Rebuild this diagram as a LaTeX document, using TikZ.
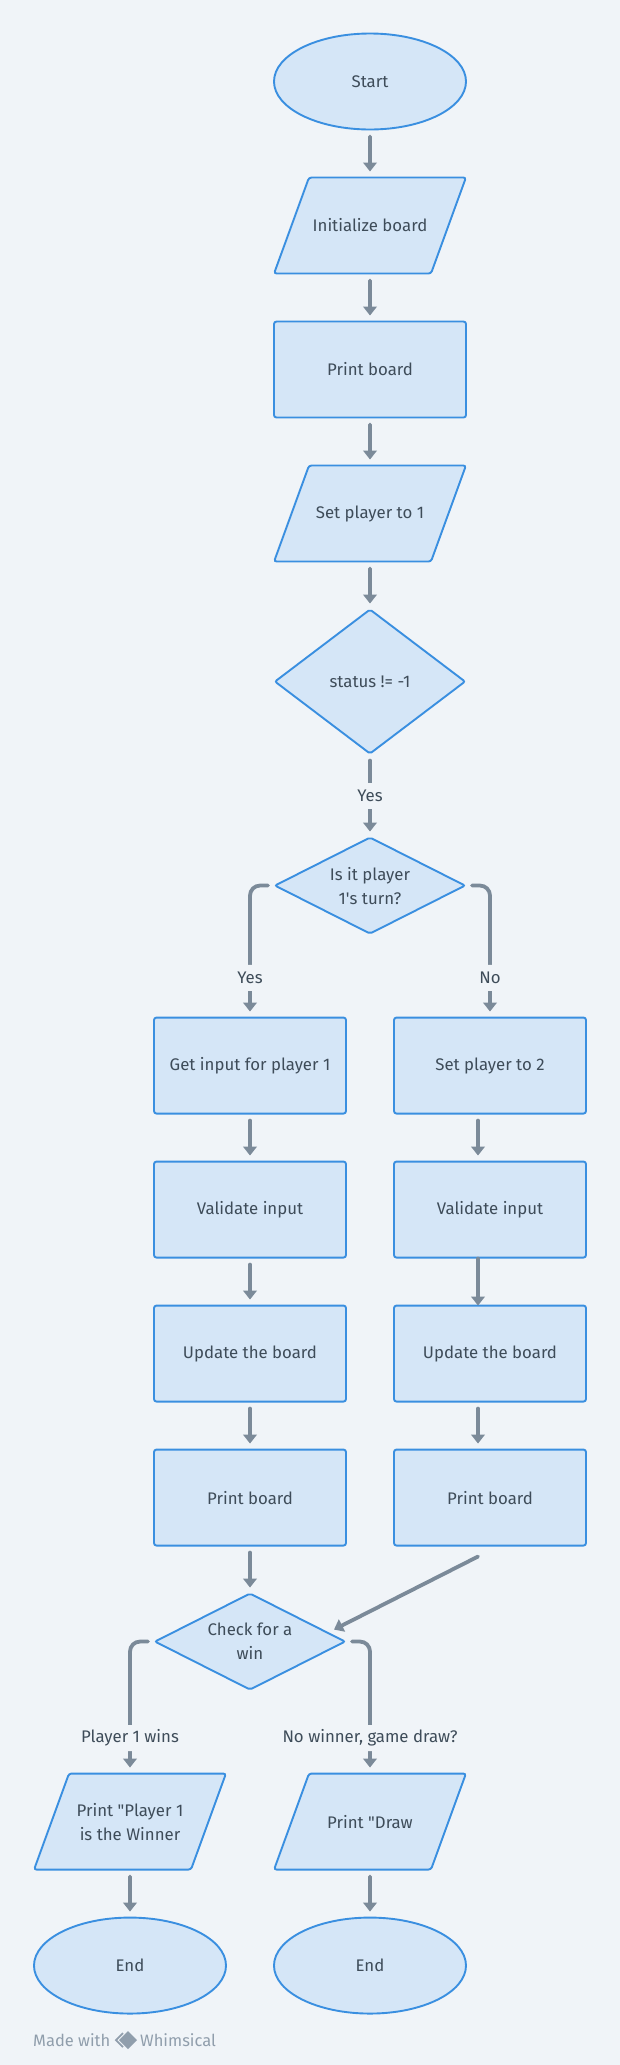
\documentclass[tikz,border=0pt]{standalone}
\usepackage{fontspec}
\setmainfont{Fira Sans}
\usetikzlibrary{arrows.meta, positioning, shapes.geometric}

\definecolor{pagebg}{HTML}{F0F4F8}
\definecolor{shapefill}{HTML}{D5E6F7}
\definecolor{shapeline}{HTML}{3A8FE0}
\definecolor{flowline}{HTML}{7B8A99}
\definecolor{inktext}{HTML}{3E4C59}
\definecolor{brandgray}{HTML}{909EAC}

\newcommand{\iotext}[1]{\parbox[c][96pt][c]{122pt}{\centering #1}}
\newcommand{\dq}{\XeTeXglyph\XeTeXglyphindex "quotedbl"\relax}
\newcommand{\sq}{\XeTeXglyph\XeTeXglyphindex "quotesingle"\relax}

\tikzset{
  base/.style={draw=shapeline, fill=shapefill, line width=1.9pt, outer sep=0pt, inner sep=0pt,
    text=inktext, align=center, font=\fontsize{16.8}{24}\selectfont},
  terminal/.style={base, ellipse, minimum width=192pt, minimum height=96pt},
  process/.style={base, rectangle, rounded corners=2.5pt, minimum width=192pt, minimum height=96pt},
  inout/.style={base, trapezium, trapezium left angle=70, trapezium right angle=110, rounded corners=2.5pt},
  choice/.style={base, diamond, inner sep=-12pt, rounded corners=2pt, minimum width=190pt, minimum height=96pt},
  flow/.style={draw=flowline, line width=3.8pt, line cap=round,
    -{Triangle[width=13.5pt,length=9pt]}, shorten <=7pt, shorten >=6pt},
  tag/.style={fill=pagebg, text=inktext, inner xsep=2pt, inner ysep=0pt, minimum height=26pt,
    font=\fontsize{16.8}{24}\selectfont},
  brand/.style={text=brandgray, inner sep=0pt, font=\fontsize{16.5}{18}\selectfont, anchor=west}
}

\begin{document}
\begin{tikzpicture}[node distance=48pt]
\fill[pagebg] (0,0) rectangle (620pt,-2065pt);
\useasboundingbox (0,0) rectangle (620pt,-2065pt);

\node (start) [terminal] at (370pt,-81.5pt) {Start};
\node (init) [inout, below=of start] {\iotext{Initialize board}};
\node (show) [process, below=of init] {Print board};
\node (setone) [inout, below=of show] {\iotext{Set player to 1}};
\node (status) [choice, below=of setone, minimum height=144pt] {status != -1};
\node (turn) [choice, below=84pt of status] {Is it player\\1\sq s turn?};

\node (getin) [process, below=84pt of turn, xshift=-120pt] {Get input for player 1};
\node (valone) [process, below=of getin] {Validate input};
\node (updone) [process, below=of valone] {Update the board};
\node (prone) [process, below=of updone] {Print board};

\node (settwo) [process, below=84pt of turn, xshift=120pt] {Set player to 2};
\node (valtwo) [process, below=of settwo] {Validate input};
\node (updtwo) [process, below=of valtwo] {Update the board};
\node (prtwo) [process, below=of updtwo] {Print board};

\node (check) [choice, below=of prone] {Check for a\\win};
\node (winner) [inout, below=84pt of check, xshift=-120pt] {\iotext{Print \dq Player 1\\is the Winner}};
\node (draw) [inout, below=84pt of check, xshift=120pt] {\iotext{Print \dq Draw}};
\node (endone) [terminal, below=of winner] {End};
\node (endtwo) [terminal, below=of draw] {End};

\draw[flow] (start) -- (init);
\draw[flow] (init) -- (show);
\draw[flow] (show) -- (setone);
\draw[flow] (setone) -- (status);
\draw[flow] (status) -- node[tag]{Yes} (turn);
\draw[flow, rounded corners=10pt] (turn.west) -| node[tag, pos=0.85]{Yes} (getin.north);
\draw[flow, rounded corners=10pt] (turn.east) -| node[tag, pos=0.85]{No} (settwo.north);

\draw[flow] (getin) -- (valone);
\draw[flow] (valone) -- (updone);
\draw[flow] (updone) -- (prone);
\draw[flow] (prone) -- (check);

\draw[flow] ([xshift=-12pt]settwo.south) -- ([xshift=-12pt]valtwo.north);
\draw[flow, shorten <=1pt, shorten >=0pt] ([xshift=-12pt]valtwo.south) -- ([xshift=-12pt]updtwo.north);
\draw[flow] ([xshift=-12pt]updtwo.south) -- ([xshift=-12pt]prtwo.north);
\draw[flow, shorten <=0pt, shorten >=0pt] ([shift={(-12pt,-11pt)}]prtwo.south) -- ([shift={(-11pt,12pt)}]check.east);

\draw[flow, rounded corners=10pt] (check.west) -| node[tag, pos=0.866]{Player 1 wins} (winner.north);
\draw[flow, rounded corners=10pt] (check.east) -| node[tag, pos=0.866]{No winner, game draw?} (draw.north);
\draw[flow] (winner) -- (endone);
\draw[flow] (draw) -- (endtwo);

\node (made) [brand] at (33pt,-2040pt) {Made with};
\node (whim) [brand] at (140pt,-2040pt) {Whimsical};
\fill[brandgray] (128pt,-2031pt) -- (137pt,-2040pt) -- (128pt,-2049pt) -- (119pt,-2040pt) -- cycle;
\draw[brandgray, line width=1.8pt] (123pt,-2033pt) -- (116pt,-2040pt) -- (123pt,-2047pt);
\end{tikzpicture}
\end{document}
